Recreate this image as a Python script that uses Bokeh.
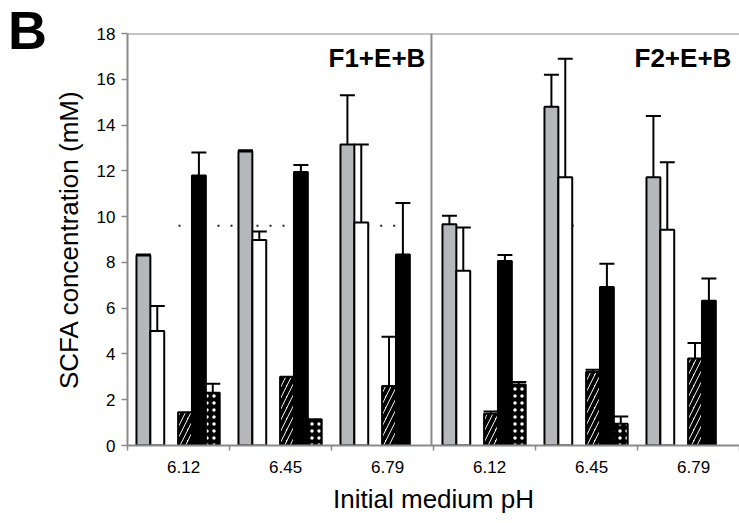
from bokeh.plotting import figure
from bokeh.models import (ColumnDataSource, Whisker, TeeHead, FixedTicker, Span, Label, Div)
from bokeh.layouts import column
from bokeh.embed import file_html
from bokeh.resources import INLINE

# ---------------- data ----------------
panel_letter = "B"
panels = ["F1+E+B", "F2+E+B"]
ph_labels = ["6.12", "6.45", "6.79", "6.12", "6.45", "6.79"]

gray_vals = [8.30, 12.85, 13.15, 9.67, 14.80, 11.72]
gray_err = [0.05, 0.05, 2.15, 0.37, 1.40, 2.68]

white_vals = [5.00, 8.98, 9.74, 7.64, 11.72, 9.43]
white_err = [1.10, 0.37, 3.41, 1.88, 5.18, 2.94]

hatch_vals = [1.45, 3.00, 2.60, 1.39, 3.21, 3.80]
hatch_err = [0.0, 0.0, 2.15, 0.10, 0.10, 0.68]

black_vals = [11.80, 11.95, 8.35, 8.06, 6.93, 6.32]
black_err = [1.00, 0.30, 2.25, 0.26, 1.01, 0.98]

dot_vals = [2.30, 1.15, 0.0, 2.67, 0.95, 0.0]
dot_err = [0.40, 0.0, 0.0, 0.10, 0.32, 0.0]

ref_level = 9.6
ref_spans = [(0.5, 1.62), (2.35, 2.65), (4.1, 4.45)]

# ---------------- layout constants ----------------
n_groups = len(ph_labels)
gap0 = 0.088
bw = 0.136
FONT = "Liberation Sans"
GRAY_AX = "#8a8a8a"

p = figure(width=739, height=523, x_range=(0, n_groups), y_range=(0, 18),
           output_backend="svg", toolbar_location=None,
           min_border_left=127, min_border_right=0, min_border_top=33,
           min_border_bottom=78)
p.outline_line_color = None
p.grid.grid_line_color = None
p.background_fill_color = None
p.border_fill_color = None

# faint dotted reference artifacts (behind bars)
for a, b in ref_spans:
    p.line([a, b], [ref_level, ref_level], line_color="#222222", line_width=2,
           line_dash="2 11")


def xs(slot):
    return [g + gap0 + bw * (slot + 0.5) for g in range(n_groups)]


series = [
    (0, gray_vals, gray_err, dict(fill_color="#b6b7bb")),
    (1, white_vals, white_err, dict(fill_color="white")),
    (3, hatch_vals, hatch_err, dict(fill_color="white", hatch_pattern="/",
                                    hatch_color="black", hatch_scale=11,
                                    hatch_weight=4)),
    (4, black_vals, black_err, dict(fill_color="black")),
    (5, dot_vals, dot_err, dict(fill_color="black", hatch_pattern=".",
                                hatch_color="white", hatch_scale=7,
                                hatch_weight=2.5)),
]

for slot, vals, errs, style in series:
    x = xs(slot)
    keep = [i for i, v in enumerate(vals) if v > 0]
    src = ColumnDataSource(dict(x=[x[i] for i in keep], top=[vals[i] for i in keep]))
    p.vbar(x="x", top="top", width=bw, bottom=0, source=src,
           line_color="black", line_width=2, **style)

for slot, vals, errs, style in series:
    x = xs(slot)
    keep = [i for i, e in enumerate(errs) if e > 0 and vals[i] > 0]
    esrc = ColumnDataSource(dict(x=[x[i] for i in keep],
                                 lo=[vals[i] for i in keep],
                                 hi=[vals[i] + errs[i] for i in keep]))
    w = Whisker(base="x", lower="lo", upper="hi", source=esrc,
                line_color="black", line_width=2,
                upper_head=TeeHead(size=15, line_width=2, line_color="black"),
                lower_head=None)
    p.add_layout(w)

# frame lines: top and panel divider
p.add_layout(Span(location=18, dimension="width", line_color=GRAY_AX, line_width=2))
p.add_layout(Span(location=n_groups / 2 - 0.02, dimension="height",
                  line_color=GRAY_AX, line_width=2))

# panel titles
for k, name in enumerate(panels):
    right = (k + 1) * n_groups / 2 - 0.08
    p.add_layout(Label(x=right, y=16.95, text=name, text_align="right",
                       text_baseline="middle", text_font=FONT,
                       text_font_size="26px", text_font_style="bold",
                       text_color="black"))

# y axis
yax = p.yaxis[0]
yax.ticker = FixedTicker(ticks=list(range(0, 19, 2)))
yax.axis_line_color = GRAY_AX
yax.axis_line_width = 2
yax.major_tick_line_color = GRAY_AX
yax.major_tick_line_width = 1.5
yax.major_tick_out = 6
yax.major_tick_in = 0
yax.minor_tick_line_color = None
yax.major_label_text_font = FONT
yax.major_label_text_font_size = "17px"
yax.major_label_text_color = "black"
yax.major_label_standoff = 6
yax.axis_label = "SCFA concentration (mM)"
yax.axis_label_text_font = FONT
yax.axis_label_text_font_size = "26px"
yax.axis_label_text_font_style = "normal"
yax.axis_label_text_color = "black"
yax.axis_label_standoff = 10

# x axis
centers = [g + 0.5 + 0.05 for g in range(n_groups)]
xax = p.xaxis[0]
xax.ticker = FixedTicker(ticks=centers, minor_ticks=list(range(0, n_groups + 1)))
xax.major_label_overrides = {c: lab for c, lab in zip(centers, ph_labels)}
xax.axis_line_color = GRAY_AX
xax.axis_line_width = 2
xax.major_tick_line_color = None
xax.major_tick_out = 0
xax.major_tick_in = 0
xax.minor_tick_line_color = GRAY_AX
xax.minor_tick_line_width = 1.5
xax.minor_tick_out = 5
xax.minor_tick_in = 0
xax.major_label_text_font = FONT
xax.major_label_text_font_size = "17px"
xax.major_label_text_color = "black"
xax.major_label_standoff = 10
xax.axis_label = "Initial medium pH"
xax.axis_label_text_font = FONT
xax.axis_label_text_font_size = "26px"
xax.axis_label_text_font_style = "normal"
xax.axis_label_text_color = "black"
xax.axis_label_standoff = 8

# big panel letter, overlaid on the figure's top-left corner
letter = Div(text=panel_letter, width=70, height=62,
             styles={"position": "absolute", "left": "0px", "top": "0px",
                     "z-index": "10", "font-family": FONT, "font-size": "54px",
                     "font-weight": "bold", "line-height": "1.12",
                     "color": "black", "padding-left": "8px", "margin": "0px"})

layout = column(p, letter, spacing=0)

open("out.html", "w").write(file_html(layout, INLINE))
